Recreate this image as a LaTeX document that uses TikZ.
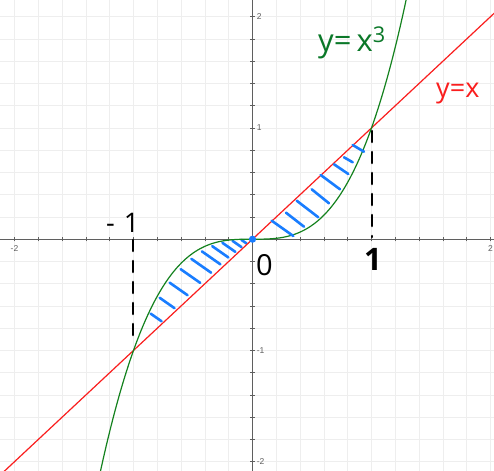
\documentclass[tikz,border=0pt]{standalone}
\usepackage{fontspec}
\newfontfamily\handfont{Open Sans}
\newfontfamily\tickfont{Liberation Sans}
\definecolor{gridc}{RGB}{238,238,238}
\definecolor{axisc}{RGB}{95,95,95}
\definecolor{redc}{RGB}{250,30,30}
\definecolor{greenc}{RGB}{20,130,30}
\definecolor{bluec}{RGB}{25,125,255}
\definecolor{greentext}{RGB}{10,120,40}
\tikzset{
  gridline/.style={draw=gridc, line width=0.8pt},
  axisline/.style={draw=axisc, line width=1pt},
  tickline/.style={draw=axisc, line width=0.7pt},
  ticklabel/.style={font=\tickfont\fontsize{8.5}{8.5}\selectfont, text=axisc, inner sep=0pt},
  hatch/.style={draw=bluec, line width=2.6pt, line cap=round},
  dashline/.style={draw=black, line width=2.6pt, dash pattern=on 11pt off 10pt, line cap=round},
  handtext/.style={font=\handfont, inner sep=0pt, anchor=base west},
}
\begin{document}
\begin{tikzpicture}[x=1pt,y=-1pt]
\useasboundingbox (0,0) rectangle (494,470);
\fill[white] (0,0) rectangle (494,470);
\clip (0,0) rectangle (494,470);
\begin{scope}[shift={(252.5,239.2)}, x=119pt, y=111.25pt]
  \foreach \i in {-11,...,11} {
    \draw[gridline] ({\i*0.2},-2.2) -- ({\i*0.2},2.3);
  }
  \foreach \j in {-11,...,11} {
    \draw[gridline] (-2.2,{\j*0.2}) -- (2.2,{\j*0.2});
  }
  % axes
  \draw[axisline] (-2.2,0) -- (2.2,0);
  \draw[axisline] (0,-2.2) -- (0,2.3);
  \foreach \i in {-10,...,10} {
    \draw[tickline] ({\i*0.2},-2.2pt) -- ({\i*0.2},2.2pt);
    \draw[tickline] (-2.2pt,{\i*0.2}) -- (2.2pt,{\i*0.2});
  }
  \node[ticklabel] (xm2) at (-2,-0.08) {-2};
  \node[ticklabel] (xp2) at (2,-0.08) {2};
  \node[ticklabel, anchor=west] (yp2) at (0.035,2) {2};
  \node[ticklabel, anchor=west] (yp1) at (0.035,1) {1};
  \node[ticklabel, anchor=west] (ym1) at (0.035,-1) {-1};
  \node[ticklabel, anchor=west] (ym2) at (0.035,-2) {-2};
  % hatching left region
  \foreach \u in {-0.87,-0.80,-0.72,-0.63,-0.54,-0.45,-0.36,-0.27,-0.18,-0.10} {
    \pgfmathsetmacro\T{(\u*\u*\u-\u)/0.01469}
    \draw[hatch] ({\u+0.0084*0.12*\T},{\u*\u*\u-0.00629*0.12*\T}) -- ({\u+0.0084*0.88*\T},{\u*\u*\u-0.00629*0.88*\T});
  }
  % curves
  \draw[redc, line width=1.2pt] (-2.2,-2.2) -- (2.2,2.2);
  \draw[greenc, line width=1.2pt, samples=200, domain=-1.285:1.3] plot (\x,{\x*\x*\x});
\end{scope}
% hatching right region (pixel coords)
\draw[hatch] (271.7,220.7) -- (293.3,236);
\draw[hatch] (286,212.7) -- (304,226.7);
\draw[hatch] (296.7,200.7) -- (318.3,217.3);
\draw[hatch] (311.7,189.3) -- (329,203.3);
\draw[hatch] (320.7,175) -- (340,189.3);
\draw[hatch] (334,164.3) -- (348.3,174);
\draw[hatch] (344,157.3) -- (352.7,162.3);
\draw[hatch] (352.7,145) -- (364,151.7);
% origin dot
\fill[bluec] (252.5,239.2) circle (3.6pt);
% dashed verticals
\coordinate (dl1) at (133,240);
\coordinate (dl2) at (133,345);
\coordinate (dr1) at (372,131);
\coordinate (dr2) at (372,237);
\draw[dashline] (dl1) -- (dl2);
\draw[dashline] (dr1) -- (dr2);
% handwritten labels
\node[handtext, text=greentext, font=\handfont\fontsize{31}{31}\selectfont] (lcube) at (318,52) {y=\,x\textsuperscript{3}};
\node[handtext, text=redc, font=\handfont\fontsize{27}{27}\selectfont] (lid) at (436,98) {y=x};
\node[handtext, text=black, font=\handfont\fontsize{27}{27}\selectfont] (lm1) at (106,232) {-\hspace{9pt}1};
\node[handtext, text=black, font=\handfont\fontsize{29}{29}\selectfont] (lzero) at (256,275) {0};
\node[handtext, text=black, font=\handfont\bfseries\fontsize{31}{31}\selectfont] (lone) at (364,270) {1};
\end{tikzpicture}
\end{document}
